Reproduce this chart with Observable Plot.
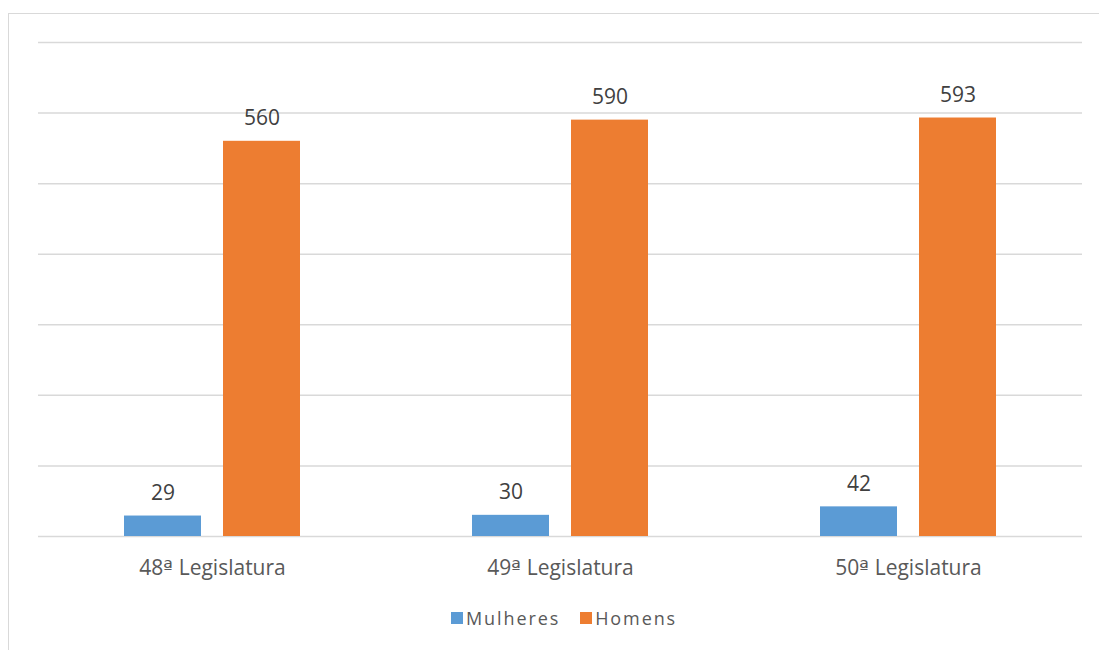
<!DOCTYPE html>
<html>
<head>
<meta charset="utf-8">
<script src="https://cdn.jsdelivr.net/npm/d3@7"></script>
<script src="https://cdn.jsdelivr.net/npm/@observablehq/plot@0.6"></script>
<style>
  @font-face { font-family: "OrdMix"; src: local("DejaVu Sans"), local("DejaVuSans"); unicode-range: U+00AA; }
  html, body { margin: 0; padding: 0; background: #fff; }
  body { width: 1099px; height: 650px; overflow: hidden; position: relative; font-family: "Open Sans", sans-serif; }
  #border { position: absolute; left: 8px; top: 13px; width: 1200px; height: 1000px; border: 1.5px solid #d9d9d9; box-sizing: border-box; pointer-events: none; }
  #chart svg { display: block; }
  #legend { position: absolute; left: 451px; top: 601px; }
  #legend div, #legend .lg-swatches { margin: 0 !important; min-height: 33px; display: flex; align-items: center; font-size: 18px !important; font-family: "Open Sans", sans-serif !important; color: #595959 !important; letter-spacing: 1.9px; }
  #legend div > span { margin-right: 20px !important; }
  #legend span > svg { margin-right: 3px !important; }
</style>
</head>
<body>
<div id="border"></div>
<div id="chart"></div>
<div id="legend"></div>
<script>
const categories = ["48ª Legislatura", "49ª Legislatura", "50ª Legislatura"];
const series = ["Mulheres", "Homens"];
const mulheres = [29, 30, 42];
const homens = [560, 590, 593];
const yTicks = [0, 100, 200, 300, 400, 500, 600, 700];
const colors = ["#5B9BD5", "#ED7D31"];

const data = [];
categories.forEach((c, i) => {
  data.push({cat: c, series: "Mulheres", value: mulheres[i]});
  data.push({cat: c, series: "Homens", value: homens[i]});
});

const W = 1099, H = 590, mL = 37, mR = 16, mT = 42, mB = 54;
const facetW = (W - mL - mR) / categories.length;
const grid = "#d9d9d9";

const chart = Plot.plot({
  width: W,
  height: H,
  marginLeft: mL,
  marginRight: mR,
  marginTop: mT,
  marginBottom: mB,
  style: {fontFamily: "OrdMix, 'Open Sans', sans-serif", fontSize: "21px", color: "#595959", background: "transparent"},
  fx: {domain: categories, padding: 0, label: null},
  x: {domain: series, paddingInner: 0.218, paddingOuter: 0.863, axis: null},
  y: {domain: [0, 700], axis: null},
  color: {domain: series, range: colors},
  marks: [
    Plot.ruleY(yTicks, {stroke: grid, strokeWidth: 1.5}),
    Plot.ruleX(categories, {fx: d => d, y1: 0, y2: 0, insetBottom: -8, dx: -facetW / 2, stroke: grid, strokeWidth: 1.5}),
    Plot.ruleX(categories.slice(-1), {fx: d => d, y1: 0, y2: 0, insetBottom: -8, dx: facetW / 2, stroke: grid, strokeWidth: 1.5}),
    Plot.barY(data, {fx: "cat", x: "series", y: "value", fill: "series"}),
    Plot.text(data, {fx: "cat", x: "series", y: "value", text: d => String(d.value), lineAnchor: "bottom", dy: -16, fontSize: 21, fill: "#404040"}),
    Plot.axisFx({anchor: "bottom", tickSize: 0, tickPadding: 24, label: null, fontSize: 21})
  ]
});
document.getElementById("chart").appendChild(chart);

const legend = Plot.legend({
  color: {domain: series, range: colors},
  swatchSize: 12,
  className: "lg",
  style: {fontSize: "18px", fontFamily: "Open Sans, sans-serif", color: "#595959"}
});
document.getElementById("legend").appendChild(legend);
</script>
</body>
</html>
